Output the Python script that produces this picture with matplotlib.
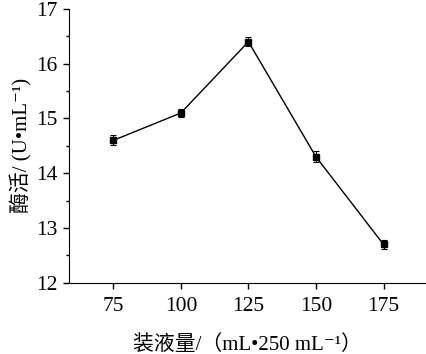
import matplotlib.pyplot as plt

# Data
volumes = [75, 100, 125, 150, 175]
activity = [14.6, 15.1, 16.4, 14.3, 12.7]
errors = [0.09, 0.07, 0.08, 0.1, 0.08]

plt.rcParams['font.family'] = ['Liberation Serif', 'DejaVu Serif', 'Noto Sans CJK SC']

fig = plt.figure(figsize=(4.26, 3.54), dpi=100)
ax = fig.add_axes([0.162, 0.201, 0.836, 0.774])

ax.errorbar(volumes, activity, yerr=errors, color='black', marker='s',
            markersize=4.5, linewidth=1.0, elinewidth=0.8, capsize=2.5, capthick=0.8)

ax.set_xlim(58.6, 190.4)
ax.set_ylim(12, 17)
ax.set_xticks(volumes)
ax.set_yticks([12, 13, 14, 15, 16, 17])
ax.set_yticks([12.5, 13.5, 14.5, 15.5, 16.5], minor=True)
ax.tick_params(axis='both', direction='out', length=4, width=1, labelsize=15.5, pad=4)
ax.tick_params(axis='x', pad=6)
ax.tick_params(axis='y', which='minor', direction='out', length=2.5, width=1)

ax.spines['top'].set_visible(False)
ax.spines['right'].set_visible(False)

ax.set_xlabel('装液量/（mL•250 mL⁻¹）', fontsize=15, labelpad=14)
ax.set_ylabel('酶活/ (U•mL⁻¹)', fontsize=15, labelpad=3)

plt.savefig('out.png', dpi=100)
